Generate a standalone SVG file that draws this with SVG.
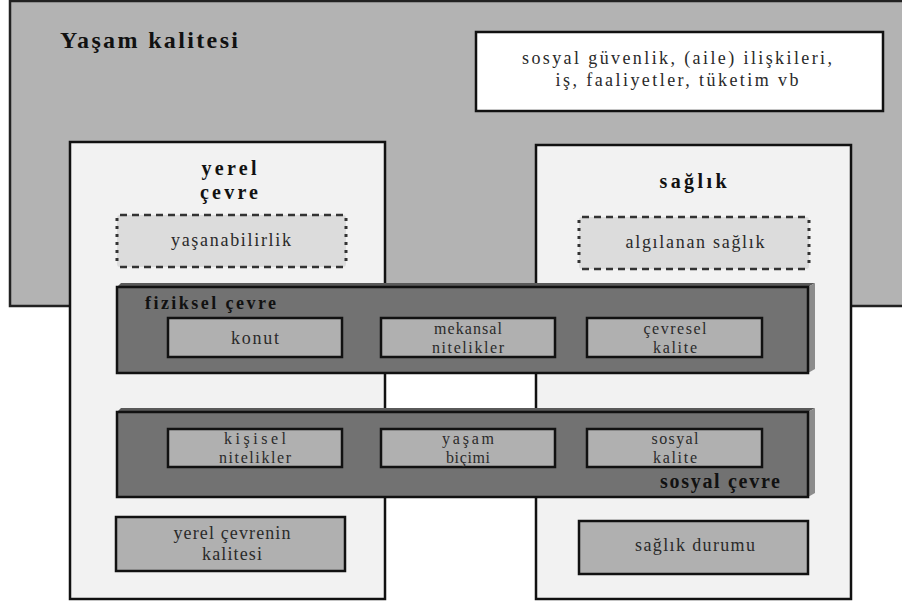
<svg xmlns="http://www.w3.org/2000/svg" width="902" height="606" viewBox="0 0 902 606">
<style>
  text { font-family: 'Liberation Serif', 'Times New Roman', 'DejaVu Serif', serif; }
  .lbl { font-size: 18px; fill: #2a2a2a; text-anchor: middle; }
  .sm { font-size: 16px; }
  .ttl { font-weight: bold; fill: #111; }
  .box { fill: #b0b0b0; stroke: #111; stroke-width: 2.5; }
  .panel { fill: #f2f2f2; stroke: #111; stroke-width: 2.5; }
  .band { fill: #727272; stroke: #111; stroke-width: 2.5; }
  .bandTop { fill: #5a5a5a; }
  .bandSide { fill: #8c8c8c; }
  .dashH { fill: none; stroke: #333; stroke-width: 2.5; stroke-dasharray: 7 5; }
  .dotV { fill: none; stroke: #333; stroke-width: 3; stroke-dasharray: 3 5; }
  .dbox { fill: #dcdcdc; }
</style>
<rect x="0" y="0" width="902" height="606" fill="#ffffff"/>

<g id="yasam-kalitesi">
  <rect x="10" y="1" width="900" height="305" fill="#b3b3b3" stroke="#222" stroke-width="2.5"/>
  <text class="ttl" x="60" y="48" font-size="24" textLength="178" lengthAdjust="spacing">Yaşam kalitesi</text>
</g>

<g id="sosyal-guvenlik">
  <rect x="476" y="32" width="407" height="79" fill="#ffffff" stroke="#111" stroke-width="2.5"/>
  <text class="lbl" x="677" y="64" font-size="18" textLength="310" lengthAdjust="spacing">sosyal güvenlik, (aile) ilişkileri,</text>
  <text class="lbl" x="677" y="86" font-size="18" textLength="243" lengthAdjust="spacing">iş, faaliyetler, tüketim vb</text>
</g>

<g id="yerel-cevre">
  <rect class="panel" x="70" y="142" width="315" height="457"/>
  <text class="ttl" x="229" y="175" font-size="20" text-anchor="middle" textLength="55" lengthAdjust="spacing">yerel</text>
  <text class="ttl" x="229" y="199" font-size="20" text-anchor="middle" textLength="58" lengthAdjust="spacing">çevre</text>
</g>

<g id="saglik">
  <rect class="panel" x="536" y="145" width="315" height="454"/>
  <text class="ttl" x="693" y="188" font-size="20" text-anchor="middle" textLength="67" lengthAdjust="spacing">sağlık</text>
</g>

<g id="yasanabilirlik">
  <rect class="dbox" x="117" y="215" width="229" height="52" rx="3"/>
  <path class="dashH" d="M120 215 H343 M120 267 H343"/>
  <path class="dotV" d="M117 218 V265 M346 218 V265"/>
  <text class="lbl" x="231" y="246" textLength="120" lengthAdjust="spacing">yaşanabilirlik</text>
</g>

<g id="algilanan-saglik">
  <rect class="dbox" x="579" y="217" width="230" height="52" rx="3"/>
  <path class="dashH" d="M582 217 H806 M582 269 H806"/>
  <path class="dotV" d="M579 220 V267 M809 220 V267"/>
  <text class="lbl" x="695" y="248" textLength="139" lengthAdjust="spacing">algılanan sağlık</text>
</g>

<g id="fiziksel-cevre">
  <polygon class="bandTop" points="117,287 121,283 815,283 808,287"/>
  <polygon class="bandSide" points="808,287 815,283 815,369 808,373"/>
  <rect class="band" x="117" y="287" width="691" height="86"/>
  <text class="ttl" x="145" y="309" font-size="18" textLength="131" lengthAdjust="spacing">fiziksel çevre</text>
</g>

<g id="konut">
  <rect class="box" x="168" y="318" width="174" height="39"/>
  <text class="lbl" x="255" y="344" textLength="48" lengthAdjust="spacing">konut</text>
</g>
<g id="mekansal-nitelikler">
  <rect class="box" x="381" y="318" width="174" height="39"/>
  <text class="lbl sm" x="468" y="334" textLength="68" lengthAdjust="spacing">mekansal</text>
  <text class="lbl sm" x="468" y="353" textLength="72" lengthAdjust="spacing">nitelikler</text>
</g>
<g id="cevresel-kalite">
  <rect class="box" x="587" y="318" width="175" height="39"/>
  <text class="lbl sm" x="675" y="334" textLength="63" lengthAdjust="spacing">çevresel</text>
  <text class="lbl sm" x="675" y="353" textLength="44" lengthAdjust="spacing">kalite</text>
</g>

<g id="sosyal-cevre">
  <polygon class="bandTop" points="117,412 121,408 815,408 808,412"/>
  <polygon class="bandSide" points="808,412 815,408 815,493 808,497"/>
  <rect class="band" x="117" y="412" width="691" height="85"/>
  <text class="ttl" x="780" y="488" font-size="20" text-anchor="end" textLength="120" lengthAdjust="spacing">sosyal çevre</text>
</g>

<g id="kisisel-nitelikler">
  <rect class="box" x="168" y="429" width="174" height="38"/>
  <text class="lbl sm" x="255" y="444" textLength="62" lengthAdjust="spacing">kişisel</text>
  <text class="lbl sm" x="255" y="463" textLength="72" lengthAdjust="spacing">nitelikler</text>
</g>
<g id="yasam-bicimi">
  <rect class="box" x="381" y="429" width="174" height="38"/>
  <text class="lbl sm" x="468" y="444" textLength="52" lengthAdjust="spacing">yaşam</text>
  <text class="lbl sm" x="468" y="463" textLength="44" lengthAdjust="spacing">biçimi</text>
</g>
<g id="sosyal-kalite">
  <rect class="box" x="587" y="429" width="175" height="38"/>
  <text class="lbl sm" x="675" y="444" textLength="47" lengthAdjust="spacing">sosyal</text>
  <text class="lbl sm" x="675" y="463" textLength="44" lengthAdjust="spacing">kalite</text>
</g>

<g id="yerel-cevrenin-kalitesi">
  <rect class="box" x="116" y="517" width="229" height="54"/>
  <text class="lbl" x="232" y="539" font-size="17" textLength="117" lengthAdjust="spacing">yerel çevrenin</text>
  <text class="lbl" x="232" y="560" font-size="17" textLength="60" lengthAdjust="spacing">kalitesi</text>
</g>

<g id="saglik-durumu">
  <rect class="box" x="579" y="521" width="229" height="53"/>
  <text class="lbl" x="695" y="551" textLength="120" lengthAdjust="spacing">sağlık durumu</text>
</g>

<g id="connectors"></g>
</svg>
